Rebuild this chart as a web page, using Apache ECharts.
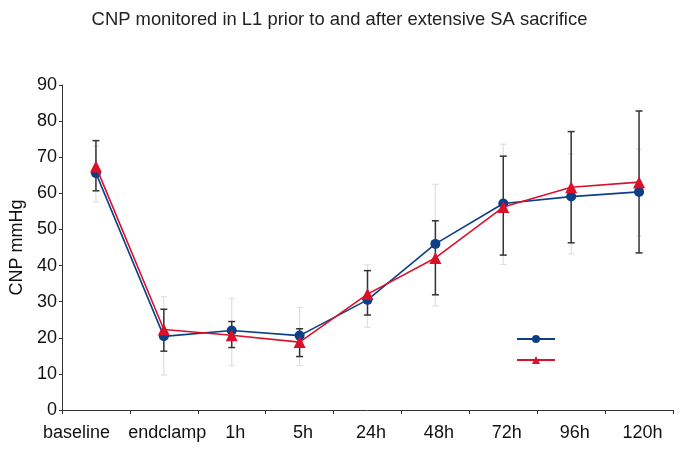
<!DOCTYPE html>
<html>
<head>
<meta charset="utf-8">
<script src="https://cdn.jsdelivr.net/npm/echarts@6/dist/echarts.min.js"></script>
<style>html,body{margin:0;padding:0;background:#fff;}#chart{width:679px;height:460px;}</style>
</head>
<body>
<div id="chart"></div>
<script>
var categories = ['baseline', 'endclamp', '1h', '5h', '24h', '48h', '72h', '96h', '120h'];
var blueMean = [65.6, 20.4, 22.0, 20.6, 30.5, 46.0, 57.2, 59.1, 60.4];
var redMean = [67.4, 22.3, 20.7, 18.8, 32.1, 42.1, 56.2, 61.7, 63.1];
var darkLow = [60.7, 16.3, 17.3, 14.8, 26.3, 31.9, 42.9, 46.3, 43.5];
var darkHigh = [74.6, 27.9, 24.5, 22.5, 38.6, 52.4, 70.3, 77.1, 82.8];
var lightLow = [57.7, 9.7, 12.3, 12.3, 22.9, 28.8, 40.3, 43.2, 48.2];
var lightHigh = [73.1, 31.4, 30.9, 28.4, 40.2, 62.5, 73.6, 70.9, 72.2];
var yTicks = [0, 10, 20, 30, 40, 50, 60, 70, 80, 90];

var FONT = 'Liberation Sans, Arial, sans-serif';

function errData(lo, hi) {
  return categories.map(function (c, i) { return [i, lo[i], hi[i]]; });
}
function errRender(color, capHalf, width) {
  return function (params, api) {
    var x = api.value(0);
    var lo = api.coord([x, api.value(1)]);
    var hi = api.coord([x, api.value(2)]);
    var st = { stroke: color, lineWidth: width };
    return {
      type: 'group',
      children: [
        { type: 'line', shape: { x1: lo[0], y1: lo[1], x2: hi[0], y2: hi[1] }, style: st },
        { type: 'line', shape: { x1: lo[0] - capHalf, y1: lo[1], x2: lo[0] + capHalf, y2: lo[1] }, style: st },
        { type: 'line', shape: { x1: hi[0] - capHalf, y1: hi[1], x2: hi[0] + capHalf, y2: hi[1] }, style: st }
      ]
    };
  };
}

var labelRich = {
  first: { fontFamily: FONT, fontSize: 18, color: '#111', padding: [0, 39, 0, 0] },
  rest: { fontFamily: FONT, fontSize: 18, color: '#111', padding: [0, 0, 0, 7] }
};

var chart = echarts.init(document.getElementById('chart'));
chart.setOption({
  animation: false,
  backgroundColor: '#ffffff',
  title: {
    text: 'CNP monitored in L1 prior to and after extensive SA sacrifice',
    left: 'center',
    top: 6,
    textStyle: { fontFamily: FONT, fontSize: 18.4, fontWeight: 'normal', color: '#222' }
  },
  legend: {
    orient: 'vertical',
    left: 511,
    top: 329,
    itemWidth: 38,
    itemHeight: 10,
    itemGap: 12,
    data: ['blue', 'red'],
    formatter: function () { return ''; },
    textStyle: { fontSize: 1 }
  },
  grid: { left: 62, right: 6, top: 85, bottom: 50, containLabel: false },
  xAxis: {
    type: 'category',
    data: categories,
    boundaryGap: true,
    axisLine: { lineStyle: { color: '#333', width: 1 } },
    axisTick: { show: true, length: 4, lineStyle: { color: '#333' } },
    axisLabel: {
      color: '#111', fontFamily: FONT, fontSize: 18, margin: 14, interval: 0,
      formatter: function (v, i) { return i === 0 ? '{first|' + v + '}' : '{rest|' + v + '}'; },
      rich: labelRich
    }
  },
  yAxis: {
    type: 'value',
    min: yTicks[0],
    max: yTicks[yTicks.length - 1],
    interval: 10,
    name: 'CNP mmHg',
    nameLocation: 'middle',
    nameGap: 33,
    nameTextStyle: { color: '#111', fontFamily: FONT, fontSize: 18 },
    axisLine: { show: true, lineStyle: { color: '#333', width: 1 } },
    axisTick: { show: true, length: 3, lineStyle: { color: '#333' } },
    axisLabel: { color: '#111', fontFamily: FONT, fontSize: 18, margin: 5 },
    splitLine: { show: false }
  },
  series: [
    {
      type: 'custom', name: 'lightErr', data: errData(lightLow, lightHigh),
      renderItem: errRender('#e0e0e0', 3, 1.2), z: 1, silent: true
    },
    {
      type: 'custom', name: 'darkErr', data: errData(darkLow, darkHigh),
      renderItem: errRender('#333333', 3.5, 1.5), z: 2, silent: true
    },
    {
      type: 'line', name: 'blue', data: blueMean,
      symbol: 'circle', symbolSize: 10,
      itemStyle: { color: '#0c3f86' },
      lineStyle: { color: '#0c3f86', width: 1.6 },
      z: 3
    },
    {
      type: 'line', name: 'red', data: redMean,
      symbol: 'triangle', symbolSize: 12,
      itemStyle: { color: '#d9112b' },
      lineStyle: { color: '#d9112b', width: 1.6 },
      z: 4
    }
  ]
});
</script>
</body>
</html>
